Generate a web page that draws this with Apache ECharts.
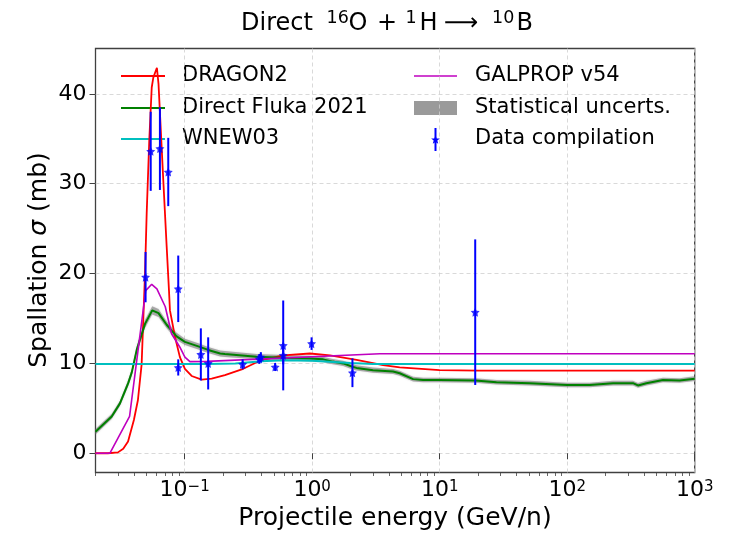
<!DOCTYPE html>
<html>
<head>
<meta charset="utf-8">
<script src="https://cdn.jsdelivr.net/npm/echarts@6/dist/echarts.min.js"></script>
<style>
  html, body { margin: 0; padding: 0; background: #ffffff; }
  #chart { width: 746px; height: 533px; }
</style>
</head>
<body>
<div id="chart"></div>
<script>
// ---- Data (energy in GeV/n, cross sections in mb) ----
const dragonE = [0.02, 0.025, 0.03, 0.033, 0.036, 0.04, 0.043, 0.046, 0.0489, 0.0504, 0.0528, 0.0552, 0.0568, 0.0606, 0.0624, 0.068, 0.0723, 0.0754, 0.0767, 0.0839, 0.0918, 0.1005, 0.1135, 0.136, 0.163, 0.207, 0.288, 0.389, 0.593, 0.96, 1.38, 2.23, 3.6, 4.86, 10, 20, 100, 1000];
const dragonS = [0, 0, 0.1, 0.5, 1.3, 3.7, 5.9, 9.9, 20.0, 26.7, 34.8, 40.7, 41.8, 42.9, 41.1, 30.4, 23.0, 18.1, 15.9, 13.0, 10.7, 9.4, 8.6, 8.2, 8.3, 8.7, 9.4, 10.3, 10.9, 11.1, 10.9, 10.4, 9.8, 9.55, 9.25, 9.2, 9.2, 9.2];

const flukaE = [0.02, 0.0268, 0.0311, 0.0361, 0.0385, 0.0421, 0.0489, 0.0557, 0.0624, 0.0723, 0.0865, 0.1005, 0.128, 0.153, 0.19, 0.207, 0.366, 0.668, 0.95, 1.22, 1.45, 1.75, 2.1, 2.23, 3.0, 4.31, 4.86, 6.19, 7.42, 10, 19, 27.9, 50.8, 100, 150, 229, 328, 359, 418, 564, 762, 1000];
const flukaS = [2.4, 4.1, 5.55, 7.8, 9.0, 11.5, 14.4, 15.9, 15.6, 14.3, 13.0, 12.4, 11.9, 11.5, 11.1, 11.05, 10.75, 10.6, 10.55, 10.45, 10.2, 10.0, 9.6, 9.5, 9.25, 9.1, 8.9, 8.25, 8.15, 8.15, 8.1, 7.9, 7.8, 7.6, 7.6, 7.8, 7.8, 7.55, 7.8, 8.15, 8.1, 8.3];
const flukaErr = [0.3, 0.3, 0.3, 0.35, 0.35, 0.4, 0.45, 0.45, 0.45, 0.4, 0.4, 0.35, 0.35, 0.33, 0.33, 0.33, 0.3, 0.3, 0.3, 0.3, 0.3, 0.3, 0.3, 0.3, 0.28, 0.28, 0.28, 0.26, 0.26, 0.26, 0.26, 0.26, 0.26, 0.26, 0.26, 0.26, 0.26, 0.26, 0.26, 0.26, 0.26, 0.26];

const wnewE = [0.02, 0.15, 0.25, 0.4, 0.6, 1.0, 2.0, 3.0, 1000];
const wnewS = [9.92, 9.92, 10.0, 10.25, 10.35, 10.3, 10.05, 9.92, 9.92];

const galpropE = [0.02, 0.0259, 0.037, 0.0495, 0.0552, 0.0606, 0.0705, 0.079, 0.0918, 0.1005, 0.11, 0.15, 3.4, 10, 100, 1000];
const galpropS = [0, 0, 4.1, 18.1, 18.8, 18.3, 16.3, 13.3, 11.8, 10.7, 10.2, 10.22, 11.07, 11.07, 11.07, 11.07];

const dataE = [0.0494, 0.0542, 0.064, 0.0744, 0.0891, 0.0891, 0.134, 0.153, 0.285, 0.385, 0.396, 0.513, 0.593, 0.593, 0.99, 2.07, 19.0];
const dataS = [19.6, 33.6, 33.9, 31.3, 18.3, 9.55, 11.0, 10.0, 9.9, 10.5, 10.7, 9.6, 12.0, 10.9, 12.2, 8.96, 15.7];
const dataErr = [2.8, 4.4, 4.6, 3.8, 3.7, 0.9, 2.9, 2.9, 0.55, 0.55, 0.55, 0.45, 5.0, 1.0, 0.7, 1.6, 8.1];

// ---- Axis ticks ----
const xMajorTicks = [0.1, 1, 10, 100, 1000];
const xTickLabels = ['10{s|−1}', '10{s|0}', '10{s|1}', '10{s|2}', '10{s|3}'];
const yTicks = [0, 10, 20, 30, 40];
const yTickLabels = ['0', '10', '20', '30', '40'];
const minorMantissas = [2, 3, 4, 5, 6, 7, 8, 9];
const minorDecades = [0.01, 0.1, 1, 10, 100];

const xMinorTicks = [];
minorDecades.forEach(d => minorMantissas.forEach(m => {
  const v = +(d * m).toPrecision(3);
  if (v >= 0.02 && v <= 1000) xMinorTicks.push(v);
}));

const FONT = 'DejaVu Sans';
const AX = '#404040';
const zip = (a, b) => a.map((v, i) => [v, b[i]]);

// five-pointed star outline used for the data markers
const STAR_PATH = 'path://M0,-10L2.94,-4.05L9.51,-3.09L4.76,1.55L5.88,8.09L0,5.2L-5.88,8.09L-4.76,1.55L-9.51,-3.09L-2.94,-4.05Z';
function starPoints(cx, cy, r) {
  const pts = [];
  for (let k = 0; k < 10; k++) {
    const rr = k % 2 === 0 ? r : r * 0.42;
    const a = -Math.PI / 2 + k * Math.PI / 5;
    pts.push([cx + rr * Math.cos(a), cy + rr * Math.sin(a)]);
  }
  return pts;
}

// title pieces: base text and raised mass numbers
function titleText(text, x, size, baseline) {
  return {
    type: 'text', x: x, y: baseline - 0.297 * size,
    style: { text: text, fontFamily: FONT, fontSize: size, fill: '#000', align: 'left', verticalAlign: 'middle' }
  };
}
const T_BASE = 30.7, T_SUP = 24, T_FS = 24, T_SFS = 17.5;

const chart = echarts.init(document.getElementById('chart'), null, { renderer: 'canvas' });

const lineBase = { type: 'line', symbol: 'none', showSymbol: false, silent: true, z: 3 };

const option = {
  animation: false,
  backgroundColor: '#ffffff',
  grid: {
    left: 95.5, right: 51.3, top: 48.5, bottom: 60.5,
    show: true, borderColor: AX, borderWidth: 1.3, backgroundColor: 'transparent'
  },
  xAxis: [
    {
      type: 'log', logBase: 10, min: 0.02, max: 1000,
      axisLine: { show: false },
      axisTick: { show: true, customValues: xMajorTicks, length: 6, lineStyle: { color: AX, width: 1 } },
      axisLabel: {
        customValues: xMajorTicks,
        fontFamily: FONT, fontSize: 22, color: '#000', margin: 7,
        formatter: v => {
          const i = xMajorTicks.findIndex(t => Math.abs(Math.log10(t) - Math.log10(v)) < 1e-6);
          return i >= 0 ? xTickLabels[i] : '';
        },
        rich: { s: { fontFamily: FONT, fontSize: 15, verticalAlign: 'top', lineHeight: 16, color: '#000' } }
      },
      splitLine: { show: true, lineStyle: { color: '#cfcfcf', type: [4, 3], width: 0.8 } }
    },
    {
      type: 'log', logBase: 10, min: 0.02, max: 1000, position: 'bottom',
      axisLine: { show: false },
      axisTick: { show: true, customValues: xMinorTicks, length: 3.5, lineStyle: { color: AX, width: 0.8 } },
      axisLabel: { show: false },
      splitLine: { show: false }
    }
  ],
  yAxis: {
    type: 'value', min: -2.14, max: 45.04,
    axisLine: { show: false },
    axisTick: { show: true, customValues: yTicks, length: 6, lineStyle: { color: AX, width: 1 } },
    axisLabel: {
      customValues: yTicks,
      fontFamily: FONT, fontSize: 22, color: '#000', margin: 9,
      formatter: v => {
        const i = yTicks.indexOf(Math.round(v));
        return i >= 0 ? yTickLabels[i] : '';
      }
    },
    splitLine: { show: true, lineStyle: { color: '#cfcfcf', type: [4, 3], width: 0.8 } }
  },
  series: [
    // statistical uncertainty band around the Fluka curve
    {
      name: 'Statistical uncerts.', type: 'custom', silent: true, z: 2,
      data: [[flukaE[0], flukaS[0]]],
      encode: { x: 0, y: 1 },
      renderItem: (params, api) => {
        const upper = flukaE.map((e, i) => api.coord([e, flukaS[i] + flukaErr[i]]));
        const lower = flukaE.map((e, i) => api.coord([e, flukaS[i] - flukaErr[i]])).reverse();
        return {
          type: 'polygon',
          shape: { points: upper.concat(lower) },
          style: { fill: 'rgba(120,120,120,0.55)', shadowBlur: 2, shadowColor: 'rgba(120,120,120,0.5)' }
        };
      }
    },
    Object.assign({}, lineBase, {
      name: 'DRAGON2', data: zip(dragonE, dragonS),
      lineStyle: { color: '#ff0000', width: 1.8 }
    }),
    Object.assign({}, lineBase, {
      name: 'Direct Fluka 2021', data: zip(flukaE, flukaS),
      lineStyle: { color: '#008000', width: 2 }
    }),
    Object.assign({}, lineBase, {
      name: 'WNEW03', data: zip(wnewE, wnewS),
      lineStyle: { color: '#00bfbf', width: 2 }
    }),
    Object.assign({}, lineBase, {
      name: 'GALPROP v54', data: zip(galpropE, galpropS),
      lineStyle: { color: '#bf00bf', width: 1.6 }
    }),
    {
      name: 'Data compilation bars', type: 'custom', silent: true, z: 5,
      data: dataE.map((e, i) => [e, dataS[i], dataErr[i]]),
      encode: { x: 0, y: 1 },
      renderItem: (params, api) => {
        const x = api.value(0), y = api.value(1), err = api.value(2);
        const top = api.coord([x, y + err]);
        const bot = api.coord([x, y - err]);
        return {
          type: 'line',
          shape: { x1: top[0], y1: top[1], x2: bot[0], y2: bot[1] },
          style: { stroke: '#0000ff', lineWidth: 2 }
        };
      }
    },
    {
      name: 'Data compilation', type: 'scatter', silent: true, z: 6,
      data: zip(dataE, dataS),
      symbol: STAR_PATH, symbolSize: 9,
      itemStyle: { color: '#0000ff' }
    }
  ],
  graphic: [
    // title: Direct 16O + 1H -> 10B
    titleText('Direct', 241, T_FS, T_BASE),
    titleText('16', 326.5, T_SFS, T_SUP),
    titleText('O', 348.5, T_FS, T_BASE),
    titleText('+', 377, T_FS, T_BASE),
    titleText('1', 405.5, T_SFS, T_SUP),
    titleText('H', 419.5, T_FS, T_BASE),
    titleText('⟶', 444, T_FS, T_BASE),
    titleText('10', 492, T_SFS, T_SUP),
    titleText('B', 516.5, T_FS, T_BASE),
    // axis titles
    {
      type: 'text', x: 395, y: 518,
      style: { text: 'Projectile energy (GeV/n)', fontFamily: FONT, fontSize: 25, fill: '#000', align: 'center', verticalAlign: 'middle' }
    },
    {
      type: 'text', x: 39, y: 260, rotation: Math.PI / 2,
      style: {
        text: 'Spallation {i|σ} (mb)', fontFamily: FONT, fontSize: 25, fill: '#000', align: 'center', verticalAlign: 'middle',
        rich: { i: { fontFamily: FONT, fontSize: 25, fontStyle: 'italic', fill: '#000' } }
      }
    },
    // legend, left column
    { type: 'line', shape: { x1: 121, y1: 76, x2: 165, y2: 76 }, style: { stroke: '#ff0000', lineWidth: 1.8 } },
    { type: 'text', x: 182, y: 76, style: { text: 'DRAGON2', fontFamily: FONT, fontSize: 21, fill: '#000', verticalAlign: 'middle' } },
    { type: 'line', shape: { x1: 121, y1: 108, x2: 165, y2: 108 }, style: { stroke: '#008000', lineWidth: 2 } },
    { type: 'text', x: 182, y: 108, style: { text: 'Direct Fluka 2021', fontFamily: FONT, fontSize: 21, fill: '#000', verticalAlign: 'middle' } },
    { type: 'line', shape: { x1: 121, y1: 139, x2: 165, y2: 139 }, style: { stroke: '#00bfbf', lineWidth: 2 } },
    { type: 'text', x: 182, y: 139, style: { text: 'WNEW03', fontFamily: FONT, fontSize: 21, fill: '#000', verticalAlign: 'middle' } },
    // legend, right column
    { type: 'line', shape: { x1: 414, y1: 76, x2: 457, y2: 76 }, style: { stroke: '#bf00bf', lineWidth: 1.6 } },
    { type: 'text', x: 475, y: 76, style: { text: 'GALPROP v54', fontFamily: FONT, fontSize: 21, fill: '#000', verticalAlign: 'middle' } },
    { type: 'rect', shape: { x: 414, y: 101, width: 43, height: 14 }, style: { fill: 'rgba(120,120,120,0.75)' } },
    { type: 'text', x: 475, y: 108, style: { text: 'Statistical uncerts.', fontFamily: FONT, fontSize: 21, fill: '#000', verticalAlign: 'middle' } },
    { type: 'line', shape: { x1: 435.5, y1: 128, x2: 435.5, y2: 151 }, style: { stroke: '#0000ff', lineWidth: 2 } },
    { type: 'polygon', shape: { points: starPoints(435.5, 140, 4.6) }, style: { fill: '#0000ff' } },
    { type: 'text', x: 475, y: 139, style: { text: 'Data compilation', fontFamily: FONT, fontSize: 21, fill: '#000', verticalAlign: 'middle' } }
  ]
};

chart.setOption(option);
</script>
</body>
</html>
